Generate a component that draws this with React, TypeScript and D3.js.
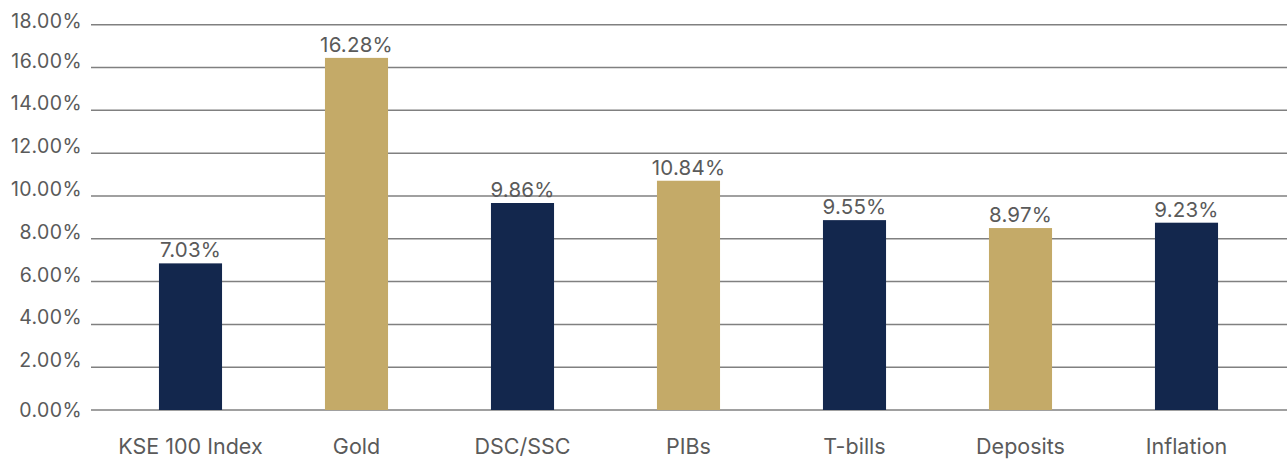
import * as d3 from "d3";

const categories = ["KSE 100 Index", "Gold", "DSC/SSC", "PIBs", "T-bills", "Deposits", "Inflation"];
const values = [6.85, 16.45, 9.67, 10.71, 8.87, 8.5, 8.75];
const valueLabels = ["7.03%", "16.28%", "9.86%", "10.84%", "9.55%", "8.97%", "9.23%"];
const barColors = ["#13274d", "#c4aa68", "#13274d", "#c4aa68", "#13274d", "#c4aa68", "#13274d"];
const yTicks = [0, 2, 4, 6, 8, 10, 12, 14, 16, 18];

const width = 1287;
const height = 459;
const font = "Inter, 'Noto Sans', sans-serif";
const textColor = "#5a5a5a";

export default function App() {
  const x = d3.scaleBand().domain(categories).range([107.5, 1269.5]).paddingInner(0.62).paddingOuter(0.31);
  const y = d3.scaleLinear().domain([0, 18]).range([410, 24.7]);

  return (
    <svg width={width} height={height} style={{ position: "absolute", left: 0, top: 0 }}>
      {yTicks.map(t => (
        <g key={t}>
          <line x1={91} x2={width} y1={y(t)} y2={y(t)} stroke="#808080" strokeWidth={1.5} />
          <text
            x={82}
            y={t === 0 ? y(t) : Math.max(y(t), 28)}
            dy={t === 0 ? "0.35em" : "0"}
            textAnchor="end"
            fontFamily={font}
            fontSize={19.5}
            letterSpacing={0.4}
            fill={textColor}
          >
            {t.toFixed(2)}%
          </text>
        </g>
      ))}
      {categories.map((c, i) => (
        <g key={c}>
          <rect x={x(c)} y={y(values[i])} width={x.bandwidth()} height={y(0) - y(values[i])} fill={barColors[i]} />
          <text x={(x(c) || 0) + x.bandwidth() / 2} y={y(values[i]) - 6} textAnchor="middle" fontFamily={font} fontSize={20.5} letterSpacing={0.2} fill={textColor}>
            {valueLabels[i]}
          </text>
          <text x={(x(c) || 0) + x.bandwidth() / 2} y={454} textAnchor="middle" fontFamily={font} fontSize={21.5} fill={textColor}>
            {c}
          </text>
        </g>
      ))}
    </svg>
  );
}
